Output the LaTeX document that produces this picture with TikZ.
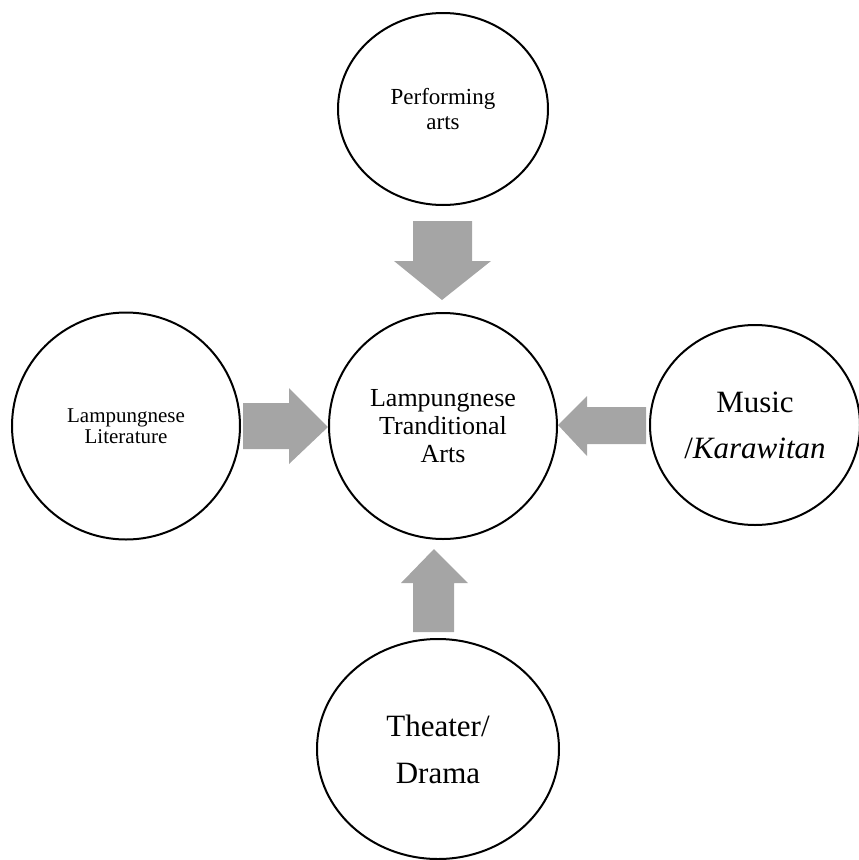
\documentclass[tikz,border=0pt]{standalone}
\usepackage{fontspec}
\setmainfont{Liberation Serif}
\usetikzlibrary{shapes.geometric}
\definecolor{arrowgray}{HTML}{A5A5A5}
\tikzset{
  bubble/.style={ellipse, draw=black, line width=2pt, inner sep=0pt, align=center, fill=white},
  blockarrow/.style={fill=arrowgray, draw=none}
}
\begin{document}
\begin{tikzpicture}[x=1pt,y=-1pt]
\useasboundingbox (0,0) rectangle (859,860);
% circles
\node[bubble, minimum width=210pt, minimum height=192pt, font=\fontsize{23}{25}\selectfont] (perf) at (443,109) {Performing\\arts};
\node[bubble, minimum width=228pt, minimum height=227pt, font=\fontsize{21}{21}\selectfont] (lit) at (126,426) {Lampungnese\\Literature};
\node[bubble, minimum width=228pt, minimum height=226pt, font=\fontsize{26}{28}\selectfont] (core) at (443,426) {Lampungnese\\Tranditional\\Arts};
\node[bubble, minimum width=210pt, minimum height=200pt, font=\fontsize{31}{46}\selectfont] (music) at (755,425) {Music\\/\textit{Karawitan}};
\node[bubble, minimum width=242pt, minimum height=220pt, font=\fontsize{31}{47}\selectfont] (drama) at (438,749) {Theater/\\Drama};
% block arrows
\path[blockarrow] (413,221) -- (472,221) -- (472,261) -- (491,261) -- (442,300) -- (394,261) -- (413,261) -- cycle;
\path[blockarrow] (243,403) -- (289,403) -- (289,388) -- (328,427) -- (289,464) -- (289,449) -- (243,449) -- cycle;
\path[blockarrow] (646,407) -- (587,407) -- (587,396) -- (558,425) -- (587,456) -- (587,444) -- (646,444) -- cycle;
\path[blockarrow] (413,632) -- (454,632) -- (454,583) -- (468,583) -- (434,549) -- (401,583) -- (413,583) -- cycle;
\end{tikzpicture}
\end{document}
